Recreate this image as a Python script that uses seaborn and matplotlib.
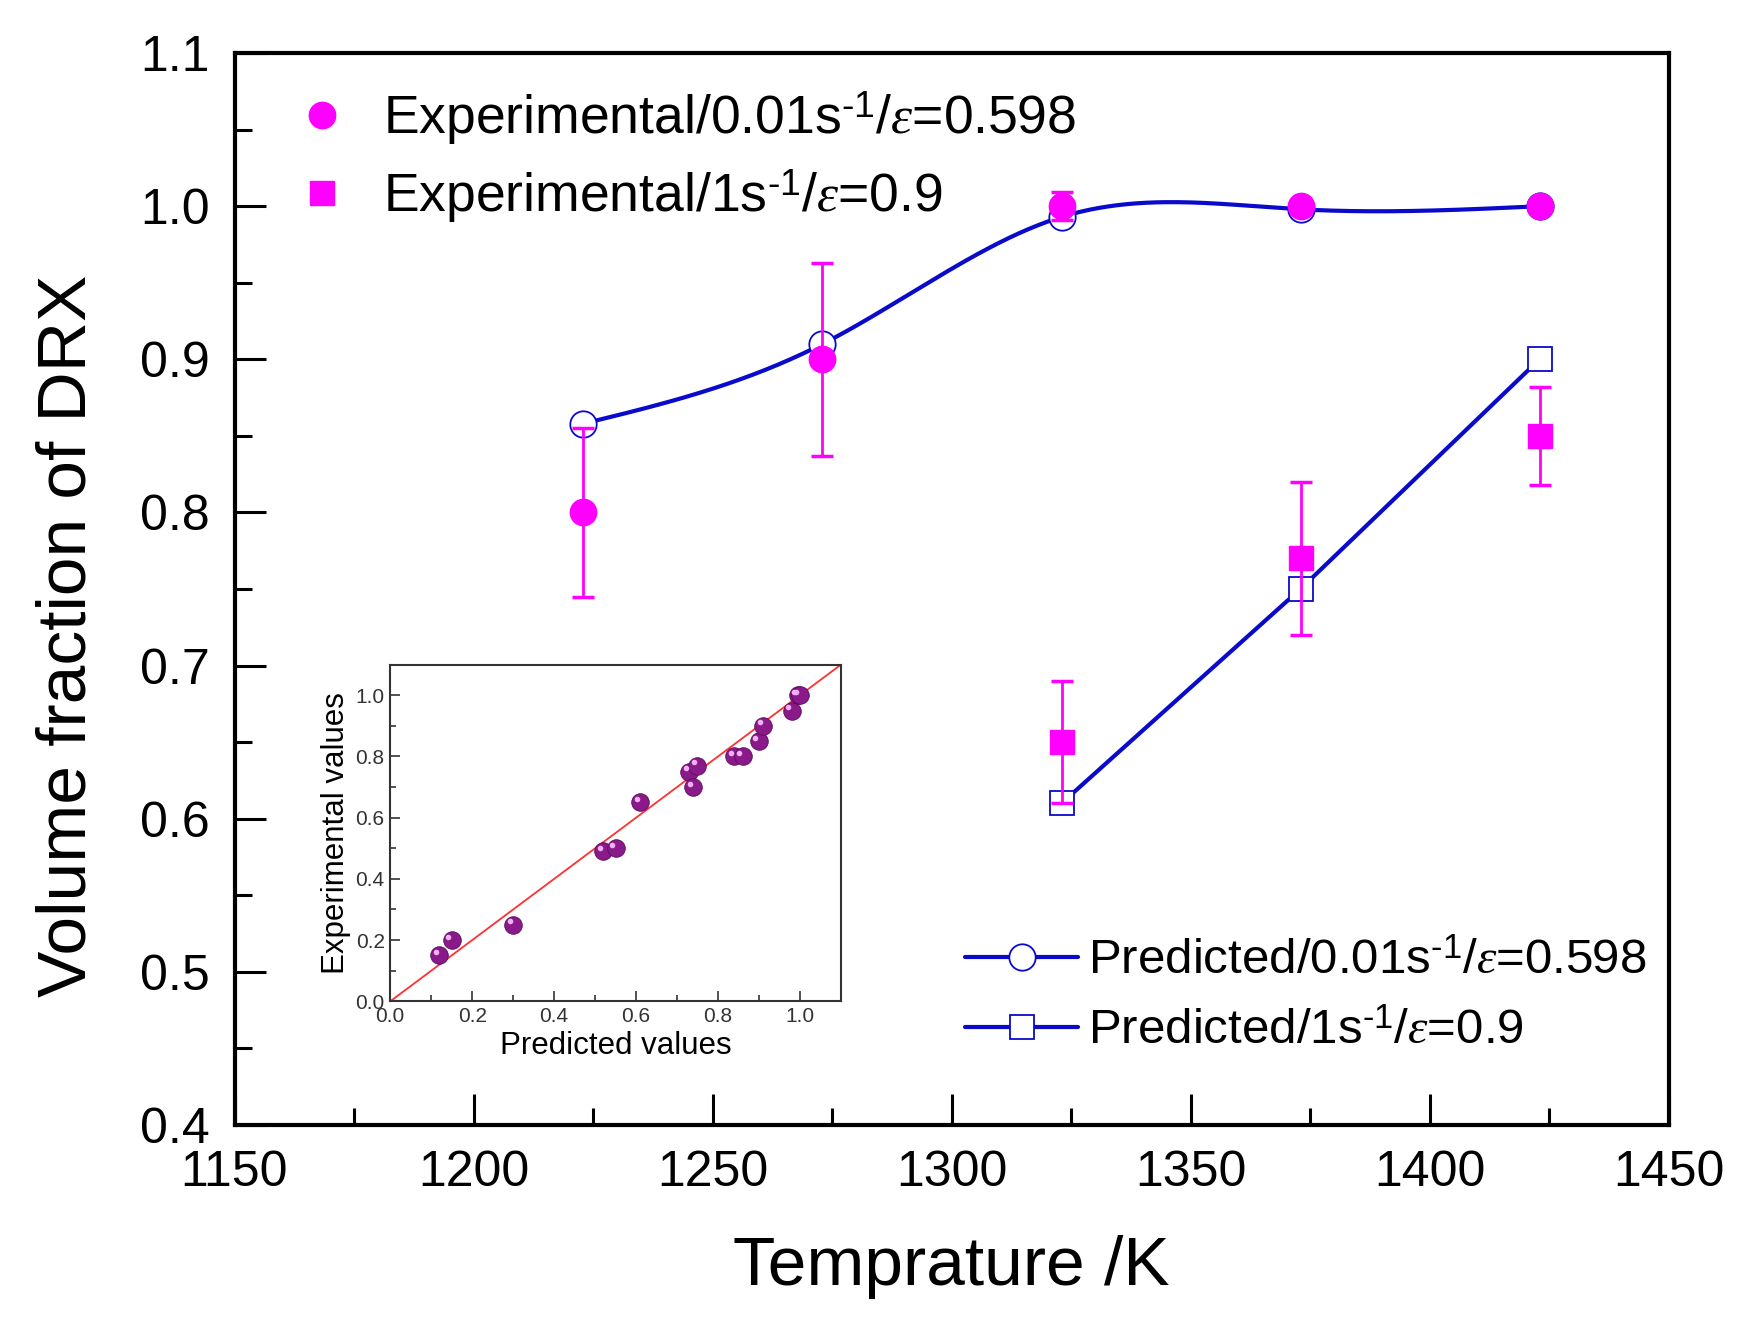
import matplotlib
matplotlib.use("Agg")

import matplotlib.pyplot as plt
import matplotlib.transforms as mtransforms
from matplotlib.lines import Line2D
from matplotlib.ticker import MultipleLocator, FormatStrFormatter
import seaborn as sns
import numpy as np

sns.set_style("ticks")
plt.rcParams["font.family"] = ["Liberation Sans", "DejaVu Sans"]
plt.rcParams["mathtext.fontset"] = "custom"
plt.rcParams["mathtext.rm"] = "Liberation Sans"
plt.rcParams["mathtext.it"] = "Liberation Serif:italic"
plt.rcParams["text.color"] = "black"
plt.rcParams["axes.labelcolor"] = "black"
plt.rcParams["axes.edgecolor"] = "black"
plt.rcParams["xtick.color"] = "black"
plt.rcParams["ytick.color"] = "black"

# main chart data
temps_low = [1223, 1273, 1323, 1373, 1423]
exp_low = [0.80, 0.90, 1.00, 1.00, 1.00]
exp_low_err = [0.055, 0.063, 0.009, 0.004, 0.0]
pred_low = [0.858, 0.910, 0.993, 0.998, 1.000]

temps_high = [1323, 1373, 1423]
exp_high = [0.65, 0.77, 0.85]
exp_high_err = [0.040, 0.050, 0.032]
pred_high = [0.610, 0.750, 0.900]

# inset data
inset_pred = [0.12, 0.15, 0.30, 0.52, 0.55, 0.61, 0.73, 0.75, 0.74, 0.84, 0.86,
              0.90, 0.91, 0.98, 0.995, 1.00]
inset_exp = [0.15, 0.20, 0.25, 0.49, 0.50, 0.65, 0.75, 0.77, 0.70, 0.80, 0.80,
             0.85, 0.90, 0.95, 1.00, 1.00]

BLUE = "#0a0acc"
MAGENTA = "#ff00ff"


def natural_spline(x, y, n=300):
    # natural cubic spline through the points, only to draw a smooth line
    x = np.asarray(x, float)
    y = np.asarray(y, float)
    k = len(x)
    h = np.diff(x)
    A = np.zeros((k, k))
    b = np.zeros(k)
    A[0, 0] = A[-1, -1] = 1
    for i in range(1, k - 1):
        A[i, i - 1] = h[i - 1]
        A[i, i] = 2 * (h[i - 1] + h[i])
        A[i, i + 1] = h[i]
        b[i] = 6 * ((y[i + 1] - y[i]) / h[i] - (y[i] - y[i - 1]) / h[i - 1])
    M = np.linalg.solve(A, b)
    xs = np.linspace(x[0], x[-1], n)
    idx = np.clip(np.searchsorted(x, xs) - 1, 0, k - 2)
    x0, x1 = x[idx], x[idx + 1]
    hh = x1 - x0
    t0 = x1 - xs
    t1 = xs - x0
    ys = (M[idx] * t0 ** 3 + M[idx + 1] * t1 ** 3) / (6 * hh) \
        + (y[idx] / hh - M[idx] * hh / 6) * t0 \
        + (y[idx + 1] / hh - M[idx + 1] * hh / 6) * t1
    return xs, ys


fig = plt.figure(figsize=(17.5, 13.28), dpi=100)
ax = fig.add_axes([0.134, 0.153, 0.8195, 0.807])

# predicted lines
xs, ys = natural_spline(temps_low, pred_low)
sns.lineplot(x=xs, y=ys, ax=ax, color=BLUE, linewidth=3, sort=False)
sns.lineplot(x=temps_high, y=pred_high, ax=ax, color=BLUE, linewidth=3, sort=False)

ax.plot(temps_low, pred_low, linestyle="none", marker="o", ms=19,
        mfc="white", mec=BLUE, mew=1.3, zorder=3)
ax.plot(temps_high, pred_high, linestyle="none", marker="s", ms=17,
        mfc="white", mec=BLUE, mew=1.3, zorder=3)

# experimental points with error bars
ax.errorbar(temps_low, exp_low, yerr=exp_low_err, fmt="o", ms=19,
            color=MAGENTA, ecolor=MAGENTA, elinewidth=2, capsize=8,
            capthick=2.5, zorder=4)
ax.errorbar(temps_high, exp_high, yerr=exp_high_err, fmt="s", ms=17,
            color=MAGENTA, ecolor=MAGENTA, elinewidth=2, capsize=8,
            capthick=2.5, zorder=4)

ax.set_xlim(1150, 1450)
ax.set_ylim(0.4, 1.1)
ax.xaxis.set_major_locator(MultipleLocator(50))
ax.xaxis.set_minor_locator(MultipleLocator(25))
ax.yaxis.set_major_locator(MultipleLocator(0.1))
ax.yaxis.set_minor_locator(MultipleLocator(0.05))
ax.yaxis.set_major_formatter(FormatStrFormatter("%.1f"))
ax.tick_params(which="both", direction="in", top=False, right=False,
               width=2.2, colors="black")
ax.tick_params(which="major", length=22, labelsize=36, pad=18)
ax.tick_params(which="minor", length=12)
for s in ax.spines.values():
    s.set_linewidth(3)
    s.set_color("black")
    s.set_visible(True)

ax.set_xlabel("Temprature /K", fontsize=50, labelpad=28)
ax.set_ylabel("Volume fraction of DRX", fontsize=50)
ax.yaxis.set_label_coords(-0.094, 0.456)

# legends
h1 = [Line2D([], [], linestyle="none", marker="o", ms=19, color=MAGENTA),
      Line2D([], [], linestyle="none", marker="s", ms=17, color=MAGENTA)]
l1 = ["Experimental/0.01s$^{\\text{-1}}$/$\\varepsilon$=0.598",
      "Experimental/1s$^{\\text{-1}}$/$\\varepsilon$=0.9"]
leg1 = ax.legend(h1, l1, loc="upper left", bbox_to_anchor=(0.1686, 0.933),
                 bbox_transform=fig.transFigure, frameon=False, fontsize=38.5,
                 handlelength=1.0, handletextpad=0.65, borderpad=0,
                 borderaxespad=0, labelspacing=0.38)
ax.add_artist(leg1)

h2 = [Line2D([], [], color=BLUE, linewidth=3, marker="o", ms=19,
             mfc="white", mec=BLUE, mew=1.3),
      Line2D([], [], color=BLUE, linewidth=3, marker="s", ms=17,
             mfc="white", mec=BLUE, mew=1.3)]
l2 = ["Predicted/0.01s$^{\\text{-1}}$/$\\varepsilon$=0.598",
      "Predicted/1s$^{\\text{-1}}$/$\\varepsilon$=0.9"]
ax.legend(h2, l2, loc="upper left", bbox_to_anchor=(0.5514, 0.293),
          bbox_transform=fig.transFigure, frameon=False, fontsize=35.5,
          handlelength=2.3, handletextpad=0.2, borderpad=0,
          borderaxespad=0, labelspacing=0.52)

# inset
axi = fig.add_axes([0.223, 0.246, 0.2575, 0.2535])
axi.axline((0, 0), slope=1, color="#ff3030", linewidth=1.3, zorder=1)
sns.scatterplot(x=inset_pred, y=inset_exp, ax=axi, s=160, color="#8a1a8a",
                edgecolor="#5a0a5a", linewidth=0.6, zorder=3)
shift = mtransforms.offset_copy(axi.transData, fig=fig, x=-2.5, y=2.5, units="points")
axi.scatter(inset_pred, inset_exp, s=16, color="#f4b0f4", transform=shift,
            linewidths=0, zorder=4)
axi.set_xlim(0, 1.1)
axi.set_ylim(0, 1.1)
axi.xaxis.set_minor_locator(MultipleLocator(0.1))
axi.yaxis.set_minor_locator(MultipleLocator(0.1))
axi.set_xticks([0, 0.2, 0.4, 0.6, 0.8, 1.0])
axi.set_yticks([0, 0.2, 0.4, 0.6, 0.8, 1.0])
axi.xaxis.set_major_formatter(FormatStrFormatter("%.1f"))
axi.yaxis.set_major_formatter(FormatStrFormatter("%.1f"))
axi.tick_params(which="both", direction="in", top=False, right=False,
                width=1.2, colors="#333333")
axi.tick_params(which="major", length=7, labelsize=15, pad=4)
axi.tick_params(which="minor", length=4)
for s in axi.spines.values():
    s.set_linewidth(1.5)
    s.set_color("#333333")
axi.set_xlabel("Predicted values", fontsize=22.5, labelpad=4)
axi.set_ylabel("Experimental values", fontsize=22.5, labelpad=3)

fig.savefig("out.png", dpi=100, facecolor="white")
